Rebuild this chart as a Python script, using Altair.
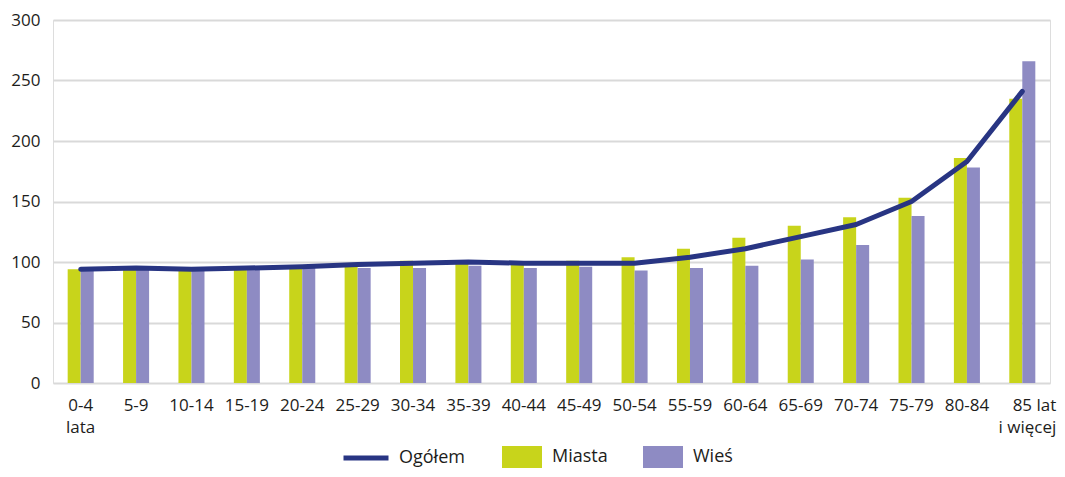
import altair as alt
import pandas as pd

cats = ["0-4\nlata", "5-9", "10-14", "15-19", "20-24", "25-29", "30-34", "35-39",
        "40-44", "45-49", "50-54", "55-59", "60-64", "65-69", "70-74", "75-79",
        "80-84", "85 lat\ni więcej"]
ogolem = [94, 95, 94, 95, 96, 98, 99, 100, 99, 99, 99, 104, 111, 121, 131, 150, 183, 241]
miasta = [94, 95, 94, 95, 96, 97, 101, 99, 99, 101, 104, 111, 120, 130, 137, 153, 186, 235]
wies = [93, 94, 93, 94, 95, 95, 95, 97, 95, 96, 93, 95, 97, 102, 114, 138, 178, 266]
bar_series = ["Miasta", "Wieś"]
bar_colors = ["#c8d41b", "#8e8bc3"]
line_series = ["Ogółem"]
line_colors = ["#283583"]
y_ticks = [0, 50, 100, 150, 200, 250, 300]

bars_df = pd.DataFrame(
    [{"cat": c, "series": "Miasta", "value": v} for c, v in zip(cats, miasta)]
    + [{"cat": c, "series": "Wieś", "value": v} for c, v in zip(cats, wies)]
)
line_df = pd.DataFrame({"cat": cats, "value": ogolem, "series": "Ogółem"})

FONT = "Open Sans"
TXT = "#1d1d1b"

x_enc = alt.X(
    "cat:N", sort=cats, title=None,
    scale=alt.Scale(paddingInner=0.53, paddingOuter=0.265),
    axis=alt.Axis(
        labelAngle=0, domain=False, ticks=False, grid=False,
        labelExpr="split(datum.label, '\\n')",
        labelLineHeight=22, labelPadding=14,
        labelFont=FONT, labelFontSize=17, labelColor=TXT,
        labelAlign={"condition": {"test": "datum.index === 1", "value": "right"}, "value": "center"},
        labelOffset={"condition": {"test": "datum.index === 1", "value": 34}, "value": 0},
    ),
)
y_enc = alt.Y(
    "value:Q", title=None,
    scale=alt.Scale(domain=[0, 300], nice=False),
    axis=alt.Axis(values=y_ticks, domain=False, ticks=False, grid=True,
                  gridColor="#d9d9d9", gridWidth=2, labelPadding=13,
                  labelFont=FONT, labelFontSize=17, labelColor=TXT),
)

bar_legend = alt.Legend(
    title=None, orient="none", direction="horizontal", legendX=449, legendY=417,
    symbolSize=1600, symbolType="M-1,-0.55H1V0.55H-1Z", symbolStrokeWidth=0,
    symbolOpacity=1,
    labelFont=FONT, labelFontSize=18, labelColor=TXT, labelOffset=10,
    columnPadding=35, padding=0,
)
line_legend = alt.Legend(
    title=None, orient="none", direction="horizontal", legendX=288, legendY=413,
    symbolSize=2025, symbolType="stroke", symbolStrokeWidth=5,
    symbolStrokeColor="#283583",
    labelFont=FONT, labelFontSize=18, labelColor=TXT, labelOffset=8,
    padding=0,
)

bars = alt.Chart(bars_df).mark_bar(opacity=1).encode(
    x=x_enc,
    y=y_enc,
    xOffset=alt.XOffset("series:N", scale=alt.Scale(domain=bar_series, paddingInner=0, paddingOuter=0)),
    fill=alt.Fill("series:N", scale=alt.Scale(domain=bar_series, range=bar_colors), legend=bar_legend),
)

line = alt.Chart(line_df).mark_line(strokeWidth=5, strokeCap="round", strokeJoin="round").encode(
    x=x_enc,
    y=y_enc,
    stroke=alt.Stroke("series:N", scale=alt.Scale(domain=line_series, range=line_colors), legend=line_legend),
)

chart = alt.layer(bars, line).resolve_scale(fill="independent", stroke="independent").properties(
    width=997, height=363,
    autosize=alt.AutoSizeParams(type="none"),
    padding={"left": 45, "top": 12, "right": 7, "bottom": 86},
).configure_view(stroke=None).configure(background="white")

chart.save("out.html", embed_options={"renderer": "svg", "actions": False})
